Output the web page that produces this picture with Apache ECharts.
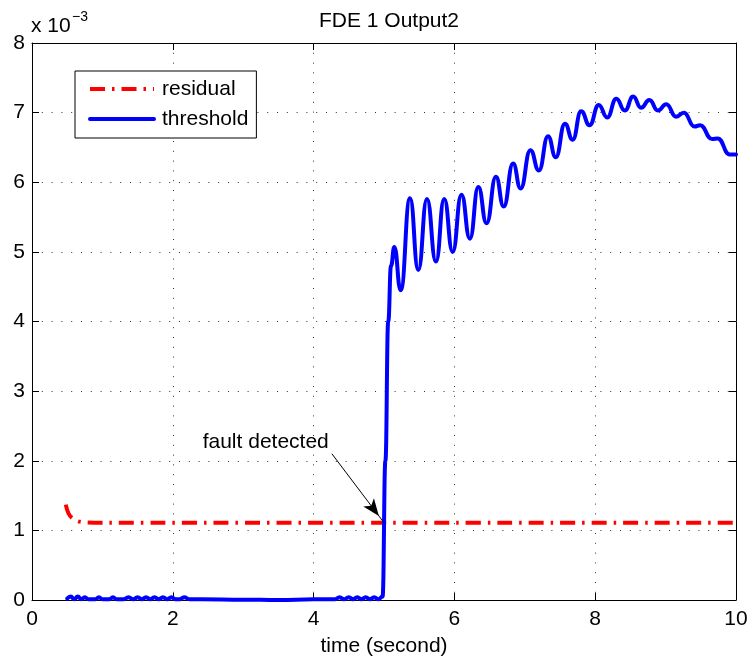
<!DOCTYPE html>
<html>
<head>
<meta charset="utf-8">
<script src="https://cdn.jsdelivr.net/npm/echarts@6/dist/echarts.min.js"></script>
<style>
  html, body { margin: 0; padding: 0; background: #fff; }
  #chart { width: 752px; height: 663px; }
</style>
</head>
<body>
<div id="chart"></div>
<script>
// Labels and ticks
const chartTitle = 'FDE 1 Output2';
const xAxisName = 'time (second)';
const seriesNames = ['residual', 'threshold'];
const xTicks = [0, 2, 4, 6, 8, 10];
const yTicks = [0, 1, 2, 3, 4, 5, 6, 7, 8];
const yScaleText = 'x 10';
const yScaleExp = '\u22123';

// Residual signal (units of 1e-3)
const resTime  = [0.48, 0.52, 0.58, 0.66, 0.75, 1.0, 10.0];
const resValue = [1.37, 1.24, 1.17, 1.13, 1.115, 1.11, 1.11];

// Threshold signal (units of 1e-3)
const thrTime = [
  0.50, 0.55, 0.60, 0.65, 0.70, 0.75, 0.80, 0.90, 0.95, 1.00, 1.10, 1.15, 1.20, 1.30,
  1.37, 1.44, 1.50, 1.56, 1.62, 1.68, 1.74, 1.80, 1.86, 1.92, 1.98, 2.04, 2.10, 2.16,
  2.24, 2.40, 3.00, 3.50, 4.00, 4.30, 4.37, 4.43, 4.50, 4.56, 4.62, 4.68, 4.74, 4.80,
  4.86, 4.92, 4.98, 5.02, 5.06, 5.10,
  5.146, 5.237, 5.369, 5.487, 5.61, 5.738, 5.855, 5.975, 6.10, 6.22, 6.34, 6.457,
  6.59, 6.70, 6.834, 6.94, 7.08, 7.20, 7.33, 7.44, 7.57, 7.68, 7.80, 7.92, 8.05,
  8.17, 8.30, 8.42, 8.54, 8.65, 8.77, 8.89, 9.01, 9.15, 9.26, 9.41, 9.49, 9.66,
  9.74, 9.91, 10.0
];
const thrValue = [
  0.02, 0.05, 0.01, 0.05, 0.01, 0.04, 0.01, 0.01, 0.04, 0.01, 0.01, 0.04, 0.01, 0.01,
  0.04, 0.01, 0.04, 0.01, 0.04, 0.01, 0.04, 0.01, 0.04, 0.01, 0.04, 0.01, 0.01, 0.04,
  0.01, 0.01, 0.005, 0.0, 0.01, 0.01, 0.04, 0.01, 0.04, 0.01, 0.04, 0.01, 0.04, 0.01,
  0.04, 0.01, 0.05, 2.0, 4.0, 4.8,
  5.07, 4.45, 5.77, 4.74, 5.76, 4.86, 5.76, 5.0, 5.82, 5.19, 5.93, 5.41,
  6.08, 5.65, 6.27, 5.91, 6.46, 6.17, 6.66, 6.36, 6.84, 6.61, 7.02, 6.82, 7.11,
  6.93, 7.20, 7.03, 7.23, 7.07, 7.18, 7.03, 7.12, 6.94, 7.00, 6.80, 6.82, 6.62,
  6.63, 6.40, 6.40
];

// Annotation: detection point, arrow start and note text
const noteText = 'fault detected';
const faultPoint = [5.0, 1.11];
const arrowStart = [4.26, 2.10];
const notePoint = [3.32, 2.27];

const FONT = '"Liberation Sans", Arial, Helvetica, sans-serif';
const FS = 21;

const pairs = (xs, ys) => xs.map((x, i) => [x, ys[i]]);

const chart = echarts.init(document.getElementById('chart'), null, { renderer: 'canvas' });

const gridDots = { show: true, lineStyle: { color: '#000', width: 1, type: [1, 8.8], opacity: 0.8 } };
const boxLine = { show: true, onZero: false, lineStyle: { color: '#000', width: 1 } };
const inTicks = { show: true, inside: true, length: 7, lineStyle: { color: '#000', width: 1 } };

const xMin = xTicks[0], xMax = xTicks[xTicks.length - 1], xStep = xTicks[1] - xTicks[0];
const yMin = yTicks[0], yMax = yTicks[yTicks.length - 1], yStep = yTicks[1] - yTicks[0];

chart.setOption({
  animation: false,
  backgroundColor: '#fff',
  textStyle: { fontFamily: FONT },
  title: {
    text: chartTitle,
    left: 384, top: 6, textAlign: 'center',
    textStyle: { fontFamily: FONT, fontSize: FS, fontWeight: 'normal', color: '#000' }
  },
  grid: { left: 32, right: 16, top: 43, bottom: 63, containLabel: false },
  legend: {
    orient: 'vertical',
    left: 75, top: 71,
    padding: [7, 8, 8, 13],
    itemGap: 8,
    itemWidth: 64, itemHeight: 14,
    backgroundColor: '#fff',
    borderColor: '#000', borderWidth: 1, borderRadius: 0,
    selectedMode: false,
    itemStyle: { opacity: 0 },
    lineStyle: { width: 4 },
    textStyle: { fontFamily: FONT, fontSize: FS, color: '#000', lineHeight: 22, padding: [0, 0, 0, 3] },
    data: seriesNames
  },
  xAxis: [
    {
      type: 'value', min: xMin, max: xMax, interval: xStep,
      name: xAxisName, nameLocation: 'middle', nameGap: 36,
      nameTextStyle: { fontFamily: FONT, fontSize: FS, color: '#000' },
      axisLine: boxLine, axisTick: inTicks,
      axisLabel: { color: '#000', fontFamily: FONT, fontSize: FS, margin: 9 },
      splitLine: gridDots
    },
    {
      type: 'value', position: 'top', min: xMin, max: xMax, interval: xStep,
      axisLine: boxLine, axisTick: inTicks, axisLabel: { show: false }, splitLine: { show: false }
    }
  ],
  yAxis: [
    {
      type: 'value', min: yMin, max: yMax, interval: yStep,
      axisLine: boxLine, axisTick: inTicks,
      axisLabel: { color: '#000', fontFamily: FONT, fontSize: FS, margin: 7 },
      splitLine: gridDots
    },
    {
      type: 'value', position: 'right', min: yMin, max: yMax, interval: yStep,
      axisLine: boxLine, axisTick: inTicks, axisLabel: { show: false }, splitLine: { show: false }
    }
  ],
  graphic: [
    { type: 'text', left: 31, top: 16, style: { text: yScaleText, font: FS + 'px ' + FONT, fill: '#000' } },
    { type: 'text', left: 72, top: 10, style: { text: yScaleExp, font: '14px ' + FONT, fill: '#000' } }
  ],
  series: [
    {
      name: seriesNames[0],
      type: 'line',
      data: pairs(resTime, resValue),
      smooth: 0.4,
      showSymbol: false, symbol: 'none',
      lineStyle: { color: '#ff0000', width: 4, type: [15, 7, 2.5, 7], cap: 'butt' },
      itemStyle: { color: '#ff0000' },
      emphasis: { disabled: true },
      z: 3,
      markLine: {
        silent: true,
        symbol: ['none', 'arrow'],
        symbolSize: [10, 17],
        symbolOffset: [0, [0, 8.5]],
        label: { show: false },
        lineStyle: { color: '#000', width: 1, type: 'solid' },
        emphasis: { disabled: true },
        data: [[{ coord: arrowStart }, { coord: faultPoint }]]
      },
      markPoint: {
        silent: true,
        symbol: 'circle', symbolSize: 1,
        itemStyle: { color: 'rgba(0,0,0,0)' },
        label: { show: true, position: 'inside', formatter: noteText, color: '#000', fontFamily: FONT, fontSize: FS },
        data: [{ coord: notePoint }]
      }
    },
    {
      name: seriesNames[1],
      type: 'line',
      data: pairs(thrTime, thrValue),
      smooth: 0.5,
      smoothMonotone: 'x',
      showSymbol: false, symbol: 'none',
      lineStyle: { color: '#0000ff', width: 4, cap: 'round', join: 'round' },
      itemStyle: { color: '#0000ff' },
      emphasis: { disabled: true },
      z: 4
    }
  ]
});
</script>
</body>
</html>
